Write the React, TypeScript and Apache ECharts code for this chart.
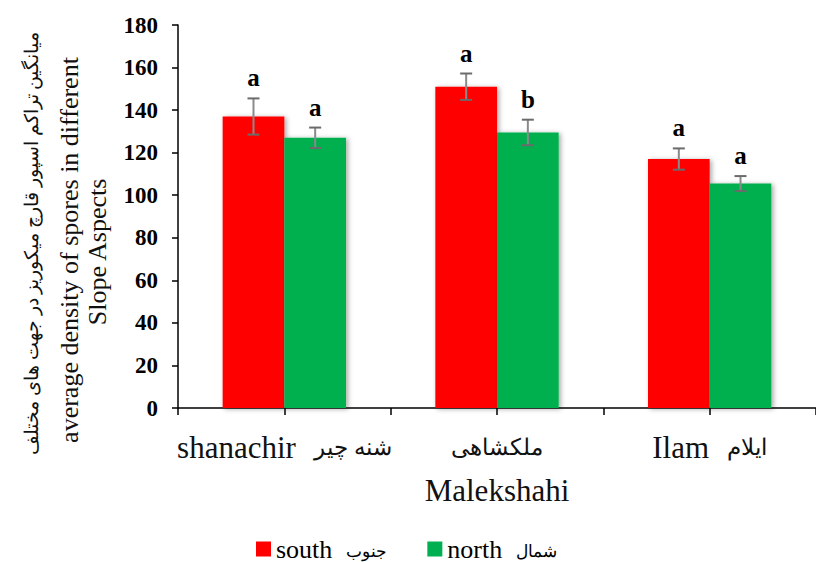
import React, { useEffect, useRef } from "react";
import * as echarts from "echarts";

const categories = ["shanachir", "Malekshahi", "Ilam"];
const categoriesFa = ["شنه چیر", "ملکشاهی", "ایلام"];
const seriesNames = ["south", "north"];
const seriesPersian = ["جنوب", "شمال"];
const southValues = [137, 151, 117];
const northValues = [127, 129.5, 105.5];
const southErr = [8.5, 6.2, 5];
const northErr = [4.8, 6, 3.5];
const southLetters = ["a", "a", "a"];
const northLetters = ["a", "b", "a"];
const yMin = 0;
const yMax = 180;
const yStep = 20;
const yTitleLines = [
  "میانگین تراکم اسپور قارچ میکوریز در جهت های مختلف",
  "average density of spores in different",
  "Slope Aspects",
];

const SERIF = "'Liberation Serif', 'Times New Roman', serif";
const BAR_FRAC = 0.29;

export default function App() {
  const ref = useRef<HTMLDivElement>(null);
  useEffect(() => {
    if (!ref.current) return;
    const chart = echarts.init(ref.current, null, { renderer: "svg" });
    const values = [southValues, northValues];
    const errs = [southErr, northErr];
    const letters = [southLetters, northLetters];
    const colors = ["#FF0000", "#00B050"];

    const makeErr = (s: number) => ({
      type: "custom",
      name: "err" + s,
      xAxisIndex: 0,
      yAxisIndex: 0,
      z: 5,
      clip: false,
      data: values[s].map((v, i) => [i, v, errs[s][i]]),
      renderItem: (params: any, api: any) => {
        const ci = api.value(0);
        const v = api.value(1);
        const e = api.value(2);
        const cw = api.size([1, 0])[0];
        const bw = cw * BAR_FRAC;
        const off = s === 0 ? -bw / 2 : bw / 2;
        const c = api.coord([ci, v]);
        const x = c[0] + off;
        const top = api.coord([ci, v + e])[1];
        const bot = api.coord([ci, v - e])[1];
        const cap = 6;
        const st = { stroke: "#6b6b6b", lineWidth: 2 };
        return {
          type: "group",
          children: [
            { type: "line", shape: { x1: x, y1: top, x2: x, y2: bot }, style: { stroke: "#8a8a8a", lineWidth: 2 } },
            { type: "line", shape: { x1: x - cap, y1: top, x2: x + cap, y2: top }, style: st },
            { type: "line", shape: { x1: x - cap, y1: bot, x2: x + cap, y2: bot }, style: st },
            {
              type: "text",
              x: x,
              y: top - 8,
              style: {
                text: letters[s][params.dataIndex],
                font: "bold 25px " + SERIF,
                fill: "#000",
                align: "center",
                verticalAlign: "bottom",
              },
            },
          ],
        };
      },
    });

    const option: any = {
      animation: false,
      backgroundColor: "#fff",
      grid: { left: 178, right: -8, top: 25, bottom: 154, containLabel: false },
      legend: {
        data: seriesNames,
        left: 256,
        top: 536,
        padding: 0,
        itemWidth: 15,
        itemHeight: 15,
        itemGap: 40,
        icon: "rect",
        formatter: (name: string) => "{e|" + name + "}{p|" + seriesPersian[seriesNames.indexOf(name)] + "}",
        textStyle: {
          fontFamily: SERIF,
          fontSize: 26,
          lineHeight: 26,
          color: "#000",
          rich: {
            e: { fontFamily: SERIF, fontSize: 26, lineHeight: 26, color: "#000" },
            p: { fontFamily: SERIF, fontSize: 17, lineHeight: 26, color: "#000", padding: [4, 0, 0, 14] },
          },
        },
      },
      xAxis: [
        {
          type: "category",
          data: categories,
          position: "bottom",
          axisLine: { show: true, lineStyle: { color: "#000", width: 1.5 } },
          axisTick: { show: true, length: 7, alignWithLabel: false, lineStyle: { color: "#000", width: 1.5 } },
          axisLabel: {
            interval: 0,
            margin: 18,
            color: "#111",
            formatter: (v: string, i: number) =>
              i === 1
                ? "{p|" + categoriesFa[i] + "}\n{e|" + v + "}"
                : "{e|" + v + "}{g|}{p|" + categoriesFa[i] + "}",
            rich: {
              e: { fontFamily: SERIF, fontSize: 31, lineHeight: 43, color: "#111" },
              p: { fontFamily: SERIF, fontSize: 23, lineHeight: 43, color: "#111" },
              g: { width: 18 },
            },
          },
          splitLine: { show: false },
        },
        {
          type: "category",
          data: categories,
          position: "bottom",
          axisLine: { show: false },
          axisTick: { show: true, length: 7, alignWithLabel: true, lineStyle: { color: "#000", width: 1.5 } },
          axisLabel: { show: false },
          splitLine: { show: false },
        },
      ],
      yAxis: {
        type: "value",
        min: yMin,
        max: yMax,
        interval: yStep,
        axisLine: { show: true, lineStyle: { color: "#000", width: 1.5 } },
        axisTick: { show: true, length: 6, inside: false, lineStyle: { color: "#000", width: 1.5 } },
        axisLabel: { margin: 20, fontFamily: SERIF, fontSize: 23, fontWeight: "bold", color: "#000" },
        splitLine: { show: false },
      },
      series: [
        ...seriesNames.map((n, s) => ({
          type: "bar",
          name: n,
          data: values[s],
          barWidth: BAR_FRAC * 100 + "%",
          barGap: "0%",
          itemStyle: {
            color: colors[s],
            shadowColor: "rgba(0,0,0,0.35)",
            shadowBlur: 5,
            shadowOffsetX: 2,
            shadowOffsetY: 1,
          },
        })),
        makeErr(0),
        makeErr(1),
      ],
      graphic: [
        { xs: 31, ys: 243, size: 19 },
        { xs: 69, ys: 250, size: 26 },
        { xs: 97, ys: 252, size: 26 },
      ].map((g, i) => ({
        type: "text",
        x: g.xs,
        y: g.ys,
        rotation: Math.PI / 2,
        style: {
          text: yTitleLines[i],
          font: g.size + "px " + SERIF,
          fill: "#111",
          align: "center",
          verticalAlign: "middle",
        },
      })),
    };
    chart.setOption(option);
    return () => chart.dispose();
  }, []);
  return <div ref={ref} style={{ position: "fixed", left: 0, top: 0, width: 816, height: 562 }} />;
}
